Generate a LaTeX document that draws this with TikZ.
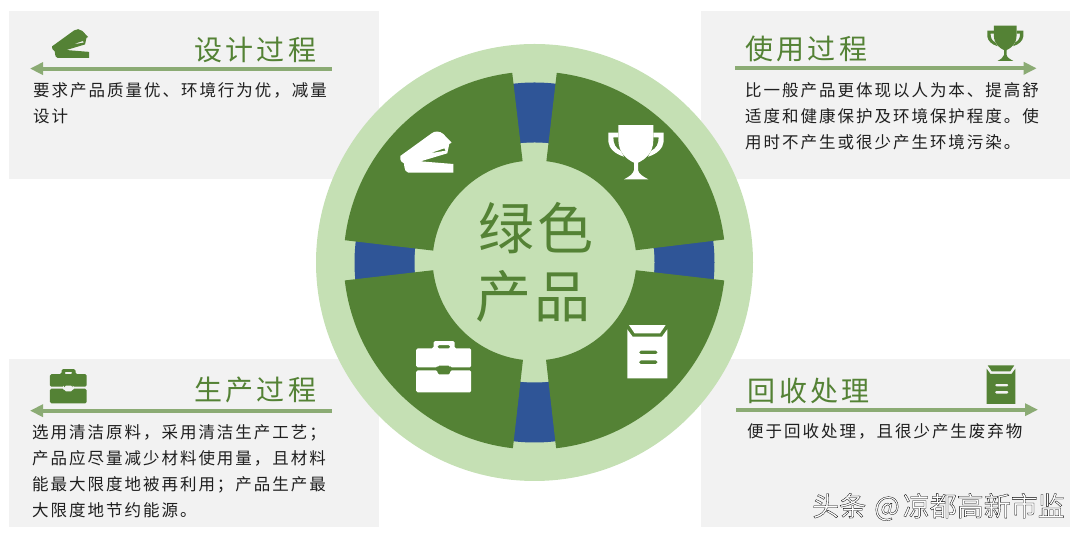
\documentclass[tikz,border=0pt]{standalone}
\usepackage{fontspec}
\usetikzlibrary{arrows.meta}
\newfontfamily\bodyfont[LetterSpace=12]{Noto Sans CJK SC}
\newfontfamily\titlefont[LetterSpace=12]{Noto Sans CJK SC}
\newfontfamily\hubfont[LetterSpace=4]{Noto Sans CJK SC}
\newfontfamily\markfont{Noto Sans CJK SC}
\definecolor{lightg}{HTML}{C5E0B4}
\definecolor{darkg}{HTML}{548235}
\definecolor{ringb}{HTML}{2F5597}
\definecolor{panel}{HTML}{F2F2F2}
\definecolor{rule}{HTML}{8BAB74}
\definecolor{ink}{HTML}{1F1F1F}
\tikzset{
  panelbox/.style={fill=panel,draw=none,inner sep=0pt,minimum width=#1,minimum height=168pt,anchor=north west},
  paneltitle/.style={font=\titlefont\fontsize{28}{32}\selectfont,text=darkg,inner sep=0pt,anchor=west},
  panelbody/.style={font=\bodyfont\fontsize{16.5}{26}\selectfont,text=ink,inner sep=0pt,anchor=north west,align=left},
  rulearrow/.style={draw=rule,line width=4pt,-{Triangle[length=13pt,width=12pt]}},
  pics/stapler/.style={code={
    \begin{scope}[yscale=-1,shift={(-110.5,-96)}]
    \path[fill,even odd rule] (31,108) -- (125,40) .. controls (135,32) and (150,33) .. (160,42) -- (185,68) -- (178,72) -- (172,100) -- (92,124) -- (190,132) -- (190,158) -- (55,158) .. controls (48,158) and (44,152) .. (42,130) .. controls (30,125) and (30,115) .. (31,108) -- cycle
      (120,100) -- (163,85) -- (167,92) -- cycle;
    \end{scope}}},
  pics/trophy/.style={code={
    \begin{scope}[yscale=-1,shift={(-108,-96.5)}]
    \path[fill] (55,15) -- (160,15) -- (160,60) .. controls (160,100) and (135,118) .. (114,128) -- (114,150) .. controls (116,162) and (130,170) .. (145,178) -- (72,178) .. controls (87,170) and (100,162) .. (102,150) -- (102,128) .. controls (81,118) and (56,100) .. (55,60) -- cycle;
    \path[fill] (55,38) -- (25,38) -- (25,65) .. controls (27,85) and (45,102) .. (72,110) -- (62,92) .. controls (47,85) and (40,72) .. (40,52) -- (55,52) -- cycle;
    \path[fill] (160,38) -- (191,38) -- (191,65) .. controls (189,85) and (171,102) .. (144,110) -- (154,92) .. controls (169,85) and (176,72) .. (176,52) -- (160,52) -- cycle;
    \end{scope}}},
  pics/briefcase/.style={code={
    \begin{scope}[yscale=-1,shift={(-100.5,-95)}]
    \path[fill,even odd rule,rounded corners=1.5pt] (18,40) -- (70,40) -- (70,18) -- (133,18) -- (133,40) -- (183,40) -- (183,97) -- (120,97) -- (120,92) -- (82,92) -- (82,97) -- (18,97) -- cycle
      (82,40) -- (82,30) -- (120,30) -- (120,40) -- cycle;
    \path[fill,rounded corners=1.5pt] (18,106) -- (82,106) -- (82,118) -- (120,118) -- (120,106) -- (183,106) -- (183,172) -- (18,172) -- cycle;
    \end{scope}}},
  pics/envelope/.style={code={
    \begin{scope}[yscale=-1,shift={(-82,-95)}]
    \path[fill] (27,15) -- (137,15) -- (120,40) -- (44,40) -- cycle;
    \path[fill,even odd rule] (22,28) -- (38,50) -- (126,50) -- (142,28) -- (142,175) -- (22,175) -- cycle
      (62,92) -- (108,92) .. controls (115,92) and (115,102) .. (108,102) -- (62,102) .. controls (55,102) and (55,92) .. (62,92) -- cycle
      (62,121) -- (108,121) .. controls (115,121) and (115,132) .. (108,132) -- (62,132) .. controls (55,132) and (55,121) .. (62,121) -- cycle;
    \end{scope}}}
}
\begin{document}
\begin{tikzpicture}[x=1pt,y=1pt]
\useasboundingbox (0,0) rectangle (1080,537);
% panels
\node[panelbox=370pt] (panelTL) at (9,526) {};
\node[panelbox=369pt] (panelTR) at (701,526) {};
\node[panelbox=370pt] (panelBL) at (9,178) {};
\node[panelbox=369pt] (panelBR) at (701,178.5) {};
% hub
\fill[lightg] (534.5,274.5) circle (218.5);
\fill[ringb] (534.5,274.5) circle (180);
\fill[lightg] (534.5,274.5) circle (120);
\foreach \cx/\cy/\a/\b in {534.5/274.5/96.7/173.3, 534.5/274.5/6.9/83.3, 534.5/278.5/186.6/263.5, 534.5/278.5/276.5/353.4}{
  \fill[darkg] ([shift={(\a:102)}]\cx,\cy) arc[start angle=\a,end angle=\b,radius=102] -- ([shift={(\b:191)}]\cx,\cy) arc[start angle=\b,end angle=\a,radius=191] -- cycle;
}
\node[font=\hubfont\fontsize{56}{60}\selectfont,text=darkg,inner sep=0pt] (hubA) at (536,309) {绿色};
\node[font=\hubfont\fontsize{56}{60}\selectfont,text=darkg,inner sep=0pt] (hubB) at (533,241) {产品};
% big icons
\pic[fill=white,scale=0.3333] at (426.8,385) {stapler};
\pic[fill=white,scale=0.3333] at (636,384.8) {trophy};
\pic[fill=white,scale=0.3333] at (443.7,170.3) {briefcase};
\pic[fill=white,scale=0.3333] at (647.3,185.3) {envelope};
% small icons
\pic[fill=darkg,scale=0.2333] at (70.7,493.5) {stapler};
\pic[fill=darkg,scale=0.2167] at (1005.3,493.7) {trophy};
\pic[fill=darkg,scale=0.2222] at (68.3,150.7) {briefcase};
\pic[fill=darkg,scale=0.2400] at (1001,152.3) {envelope};
% titles
\node[paneltitle] (titleTL) at (194,487) {设计过程};
\node[paneltitle] (titleTR) at (745,488) {使用过程};
\node[paneltitle] (titleBL) at (194,147) {生产过程};
\node[paneltitle] (titleBR) at (747.7,146) {回收处理};
% arrows
\coordinate (aTLs) at (331.5,468.4); \coordinate (aTLe) at (30,468.4);
\coordinate (aTRs) at (735,468.7); \coordinate (aTRe) at (1036.7,468.7);
\coordinate (aBLs) at (331.7,126.3); \coordinate (aBLe) at (30,126.3);
\coordinate (aBRs) at (736.3,127.3); \coordinate (aBRe) at (1038,127.3);
\draw[rulearrow] (aTLs) -- (aTLe);
\draw[rulearrow] (aTRs) -- (aTRe);
\draw[rulearrow] (aBLs) -- (aBLe);
\draw[rulearrow] (aBRs) -- (aBRe);
% bodies
\node[panelbody] (bodyTL) at (33,455) {要求产品质量优、环境行为优，减量\\设计};
\node[panelbody] (bodyTR) at (745,455) {比一般产品更体现以人为本、提高舒\\适度和健康保护及环境保护程度。使\\用时不产生或很少产生环境污染。};
\node[panelbody] (bodyBL) at (32,113) {选用清洁原料，采用清洁生产工艺；\\产品应尽量减少材料使用量，且材料\\能最大限度地被再利用；产品生产最\\大限度地节约能源。};
\node[panelbody] (bodyBR) at (747,114) {便于回收处理，且很少产生废弃物};
% watermark
\node[font=\markfont\fontsize{27}{30}\selectfont,text=white,inner sep=0pt,anchor=east] (mark) at (1065,30) {\special{pdf:code 2 Tr 0.3 w 0 0 0 RG}头条\hspace{8pt}@\hspace{3pt}凉都高新市监\special{pdf:code 0 Tr}};
\end{tikzpicture}
\end{document}
